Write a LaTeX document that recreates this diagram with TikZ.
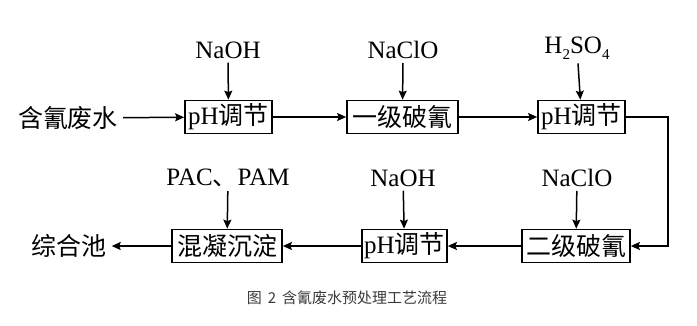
\documentclass[tikz,border=0pt]{standalone}
\usepackage{fontspec}
\setmainfont{Liberation Serif}
\newfontfamily\cjk{Noto Sans CJK SC}
\usepackage{xcolor}
\definecolor{capgray}{HTML}{3A3A3A}
\usepackage{tikz}
\usetikzlibrary{arrows.meta, positioning, calc}
\newcommand{\lowsub}[1]{\raisebox{-0.5ex}{\fontsize{15}{15}\selectfont #1}}

\begin{document}
\begin{tikzpicture}[x=1pt, y=-1pt,
        every node/.style={font=\fontsize{25}{28}\selectfont, inner sep=0},
        stage/.style={draw, line width=1.7pt, minimum height=33pt, inner sep=2pt},
        flow/.style={-{Stealth[length=9pt, width=8pt, inset=1.5pt]}, line width=1.5pt},
        dose/.style={flow, shorten <=4pt},
        caption/.style={font=\cjk\fontsize{15}{18}\selectfont, text=capgray},
    ]
        \useasboundingbox (0,0) rectangle (697,325);

        % top row
        \node (feed) at (68,118) {\cjk 含氰废水};
        \node[stage, minimum width=87pt] (ph1) at (228.5,117) {pH\cjk 调节};
        \node[stage, minimum width=111pt] (brk1) at (402.5,117) {\cjk 一级破氰};
        \node[stage, minimum width=87pt] (ph2) at (581.5,117) {pH\cjk 调节};

        \node (naoh1) at (228,50) {NaOH};
        \node (naclo1) at (403,50) {NaClO};
        \node (acid) at (577,48) {H\lowsub{2}SO\lowsub{4}};

        % bottom row
        \node[stage, minimum width=108pt] (brk2) at (576,246) {\cjk 二级破氰};
        \node[stage, minimum width=85pt] (ph3) at (404.5,246) {pH\cjk 调节};
        \node[stage, minimum width=110pt] (coag) at (227,246) {\cjk 混凝沉淀};
        \node (pool) at (69,246) {\cjk 综合池};

        \node (naclo2) at (577,178) {NaClO};
        \node (naoh2) at (403,178) {NaOH};
        \node (pac) at (228,178) {PAC{\cjk 、}PAM};

        \coordinate (turn) at (668,117);

        \node[caption] (title) at (347,298) {图\hspace{6pt}2\hspace{6pt}含氰废水预处理工艺流程};

        \draw[flow, shorten <=5pt] (feed) to (ph1);
        \draw[flow] (ph1) to (brk1);
        \draw[flow] (brk1) to (ph2);
        \draw[flow] (ph2) -- (turn) |- (brk2);
        \draw[flow] (brk2) to (ph3);
        \draw[flow] (ph3) to (coag);
        \draw[flow, shorten >=5pt] (coag) to (pool);

        \draw[dose] (naoh1) to (ph1);
        \draw[dose] (naclo1) to (brk1);
        \draw[dose] (acid) to (ph2);
        \draw[dose] (naclo2) to (brk2);
        \draw[dose] (naoh2) to (ph3);
        \draw[dose] (pac) to (coag);
    \end{tikzpicture}
\end{document}
